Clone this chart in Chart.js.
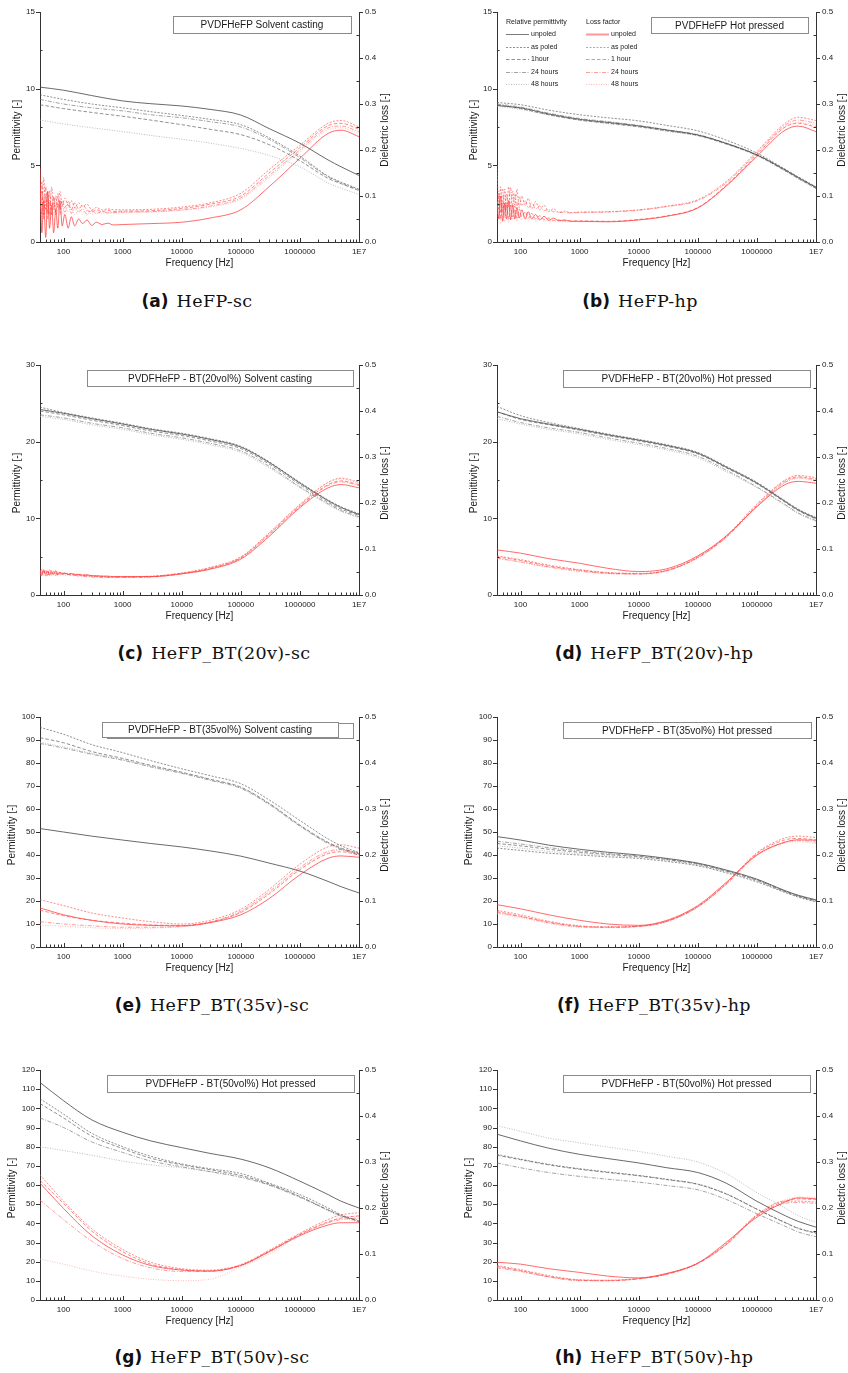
<!DOCTYPE html>
<html>
<head>
<meta charset="utf-8">
<script src="https://cdn.jsdelivr.net/npm/chart.js@4.4.1/dist/chart.umd.min.js"></script>
<style>
  html, body { margin: 0; padding: 0; background: #fff; }
  body { position: relative; width: 848px; height: 1373px; overflow: hidden; }
  canvas.panel { position: absolute; }
  .cap { position: absolute; white-space: nowrap; transform: translate(-50%, -50%); color: #111; line-height: 1; }
  .cap b { font-family: "DejaVu Sans", sans-serif; font-weight: bold; font-size: 17px; }
  .cap span { font-family: "DejaVu Serif", serif; font-size: 17.5px; letter-spacing: 0.4px; }
</style>
</head>
<body>
<script>
// ---- frequency grids (Hz) ----
const freqMain = [40, 100, 300, 1e3, 3e3, 1e4, 3e4, 1e5, 3e5, 1e6, 3e6, 5e6, 1e7];
const freqNoisy = [40, 43, 46, 50, 54, 58, 63, 68, 74, 80, 87, 95, 105, 120, 135, 155, 180, 210, 250, 300, 360, 450, 560, 700,
                   1e3, 3e3, 1e4, 3e4, 1e5, 3e5, 1e6, 3e6, 5e6, 1e7];

// ---- series names (order: unpoled, as poled, 1 hour, 24 hours, 48 hours) ----
const permNames = ['unpoled', 'as poled', '1hour', '24 hours', '48 hours'];
const lossNames = ['unpoled', 'as poled', '1 hour', '24 hours', '48 hours'];

// ---- axis tick labels ----
const freqTickLabels = { 100: '100', 1000: '1000', 10000: '10000', 100000: '100000', 1000000: '1000000', 10000000: '1E7' };

// ---- (a) PVDFHeFP solvent casting ----
const permA = [
  [10.1, 9.9, 9.55, 9.2, 9.02, 8.87, 8.65, 8.28, 7.4, 6.44, 5.35, 4.9, 4.34],
  [9.6, 9.3, 9.0, 8.75, 8.5, 8.25, 8.0, 7.65, 6.8, 5.6, 4.3, 3.9, 3.45],
  [8.95, 8.7, 8.45, 8.2, 7.95, 7.65, 7.35, 7.0, 6.35, 5.3, 4.15, 3.8, 3.35],
  [9.3, 9.0, 8.75, 8.55, 8.3, 8.1, 7.85, 7.5, 6.7, 5.5, 4.25, 3.85, 3.4],
  [7.95, 7.7, 7.45, 7.2, 6.95, 6.7, 6.45, 6.1, 5.65, 4.9, 3.85, 3.5, 3.1]
];
const lossA = [
  [0.16, 0.02, 0.09, 0.01, 0.11, 0.03, 0.08, 0.02, 0.07, 0.03, 0.09, 0.035, 0.06, 0.03, 0.055, 0.035, 0.05, 0.04, 0.048, 0.036, 0.043, 0.038, 0.041, 0.037, 0.038, 0.04, 0.043, 0.052, 0.07, 0.12, 0.182, 0.236, 0.243, 0.229],
  [0.12, 0.06, 0.14, 0.07, 0.11, 0.06, 0.12, 0.07, 0.10, 0.075, 0.11, 0.08, 0.095, 0.08, 0.09, 0.075, 0.085, 0.078, 0.082, 0.07, 0.075, 0.07, 0.072, 0.07, 0.07, 0.071, 0.076, 0.085, 0.106, 0.157, 0.21, 0.258, 0.264, 0.25],
  [0.09, 0.13, 0.05, 0.12, 0.06, 0.11, 0.06, 0.10, 0.065, 0.105, 0.07, 0.09, 0.075, 0.088, 0.07, 0.085, 0.072, 0.08, 0.07, 0.065, 0.07, 0.066, 0.069, 0.066, 0.067, 0.068, 0.073, 0.082, 0.10, 0.15, 0.205, 0.253, 0.258, 0.245],
  [0.07, 0.11, 0.06, 0.10, 0.05, 0.09, 0.055, 0.095, 0.06, 0.085, 0.06, 0.08, 0.065, 0.08, 0.062, 0.075, 0.065, 0.072, 0.06, 0.068, 0.062, 0.066, 0.063, 0.064, 0.065, 0.066, 0.07, 0.078, 0.096, 0.144, 0.2, 0.248, 0.252, 0.24],
  [0.10, 0.05, 0.10, 0.06, 0.09, 0.05, 0.085, 0.06, 0.08, 0.065, 0.08, 0.06, 0.075, 0.065, 0.072, 0.06, 0.07, 0.065, 0.068, 0.06, 0.066, 0.062, 0.064, 0.063, 0.064, 0.065, 0.069, 0.076, 0.093, 0.14, 0.196, 0.244, 0.248, 0.236]
];

// ---- (b) PVDFHeFP hot pressed ----
const permB = [
  [8.9, 8.75, 8.35, 8.0, 7.8, 7.57, 7.3, 6.98, 6.44, 5.68, 4.7, 4.2, 3.55],
  [9.1, 8.95, 8.6, 8.3, 8.1, 7.9, 7.6, 7.25, 6.65, 5.8, 4.75, 4.25, 3.6],
  [8.95, 8.7, 8.3, 7.95, 7.75, 7.52, 7.25, 6.95, 6.4, 5.65, 4.65, 4.15, 3.5],
  [9.0, 8.8, 8.4, 8.05, 7.85, 7.6, 7.32, 7.0, 6.45, 5.7, 4.72, 4.22, 3.58],
  [8.85, 8.65, 8.28, 7.95, 7.72, 7.5, 7.22, 6.92, 6.38, 5.62, 4.62, 4.1, 3.48]
];
const lossB = [
  [0.09, 0.05, 0.1, 0.045, 0.085, 0.05, 0.09, 0.048, 0.08, 0.05, 0.075, 0.052, 0.07, 0.05, 0.066, 0.05, 0.06, 0.048, 0.056, 0.047, 0.052, 0.046, 0.048, 0.045, 0.045, 0.044, 0.048, 0.056, 0.074, 0.121, 0.186, 0.243, 0.252, 0.24],
  [0.167, 0.07, 0.12, 0.065, 0.115, 0.07, 0.12, 0.075, 0.11, 0.08, 0.115, 0.075, 0.1, 0.08, 0.095, 0.072, 0.088, 0.07, 0.08, 0.066, 0.072, 0.064, 0.067, 0.064, 0.065, 0.066, 0.07, 0.078, 0.092, 0.131, 0.197, 0.258, 0.271, 0.264],
  [0.07, 0.1, 0.05, 0.09, 0.055, 0.085, 0.05, 0.08, 0.055, 0.078, 0.052, 0.072, 0.055, 0.066, 0.052, 0.062, 0.05, 0.057, 0.049, 0.052, 0.047, 0.048, 0.046, 0.046, 0.046, 0.045, 0.049, 0.057, 0.075, 0.123, 0.19, 0.25, 0.258, 0.25],
  [0.08, 0.11, 0.065, 0.115, 0.07, 0.105, 0.075, 0.118, 0.078, 0.105, 0.075, 0.098, 0.08, 0.09, 0.074, 0.085, 0.072, 0.078, 0.068, 0.07, 0.066, 0.065, 0.064, 0.063, 0.064, 0.065, 0.069, 0.077, 0.09, 0.128, 0.194, 0.254, 0.265, 0.258],
  [0.05, 0.085, 0.04, 0.08, 0.045, 0.075, 0.042, 0.075, 0.048, 0.07, 0.045, 0.065, 0.048, 0.06, 0.046, 0.056, 0.045, 0.052, 0.045, 0.048, 0.044, 0.046, 0.044, 0.044, 0.044, 0.044, 0.048, 0.056, 0.074, 0.122, 0.19, 0.25, 0.26, 0.254]
];

// ---- (c) PVDFHeFP - BT(20vol%) solvent casting ----
const permC = [
  [24.2, 23.7, 23.0, 22.3, 21.6, 21.0, 20.3, 19.3, 17.3, 14.6, 12.3, 11.4, 10.5],
  [24.5, 23.8, 23.1, 22.4, 21.7, 21.1, 20.4, 19.4, 17.4, 14.7, 12.4, 11.5, 10.6],
  [24.0, 23.5, 22.8, 22.1, 21.4, 20.8, 20.1, 19.1, 17.1, 14.4, 12.1, 11.2, 10.4],
  [23.5, 23.1, 22.4, 21.8, 21.1, 20.5, 19.8, 18.8, 16.8, 14.1, 11.9, 11.0, 10.2],
  [23.3, 22.9, 22.2, 21.6, 20.9, 20.3, 19.6, 18.6, 16.6, 14.0, 11.8, 10.9, 10.1]
];
const lossC = [
  [0.05, 0.042, 0.055, 0.045, 0.052, 0.043, 0.05, 0.046, 0.053, 0.044, 0.049, 0.046, 0.048, 0.045, 0.047, 0.044, 0.045, 0.043, 0.044, 0.042, 0.042, 0.041, 0.041, 0.04, 0.04, 0.04, 0.046, 0.056, 0.078, 0.127, 0.19, 0.233, 0.24, 0.233],
  [0.045, 0.056, 0.047, 0.054, 0.044, 0.055, 0.046, 0.052, 0.045, 0.05, 0.046, 0.049, 0.046, 0.047, 0.045, 0.046, 0.044, 0.044, 0.043, 0.042, 0.041, 0.041, 0.04, 0.04, 0.04, 0.041, 0.048, 0.06, 0.083, 0.135, 0.197, 0.245, 0.254, 0.245],
  [0.055, 0.047, 0.052, 0.041, 0.05, 0.044, 0.054, 0.045, 0.049, 0.043, 0.05, 0.045, 0.047, 0.044, 0.046, 0.043, 0.044, 0.042, 0.042, 0.041, 0.04, 0.04, 0.039, 0.039, 0.039, 0.04, 0.047, 0.058, 0.081, 0.132, 0.194, 0.24, 0.248, 0.24],
  [0.04, 0.05, 0.044, 0.052, 0.042, 0.049, 0.043, 0.05, 0.042, 0.048, 0.043, 0.046, 0.043, 0.045, 0.042, 0.043, 0.041, 0.041, 0.04, 0.039, 0.039, 0.038, 0.038, 0.038, 0.038, 0.039, 0.046, 0.057, 0.08, 0.13, 0.192, 0.238, 0.246, 0.238],
  [0.052, 0.044, 0.05, 0.046, 0.055, 0.045, 0.051, 0.043, 0.05, 0.045, 0.048, 0.044, 0.046, 0.044, 0.045, 0.042, 0.043, 0.041, 0.041, 0.04, 0.04, 0.039, 0.039, 0.039, 0.039, 0.04, 0.047, 0.059, 0.082, 0.134, 0.196, 0.244, 0.252, 0.243]
];

// ---- (d) PVDFHeFP - BT(20vol%) hot pressed ----
const permD = [
  [23.9, 23.0, 22.3, 21.6, 20.9, 20.2, 19.5, 18.5, 16.7, 14.6, 12.2, 11.1, 10.0],
  [24.6, 23.4, 22.5, 21.7, 21.0, 20.3, 19.6, 18.6, 16.8, 14.7, 12.3, 11.2, 10.1],
  [23.9, 22.9, 22.2, 21.5, 20.8, 20.1, 19.4, 18.4, 16.6, 14.5, 12.1, 11.0, 9.9],
  [23.3, 22.5, 21.8, 21.2, 20.5, 19.8, 19.1, 18.1, 16.3, 14.1, 11.8, 10.7, 9.7],
  [23.0, 22.3, 21.6, 21.0, 20.3, 19.6, 18.9, 17.9, 16.1, 14.0, 11.7, 10.6, 9.6]
];
const lossD = [
  [0.098, 0.091, 0.079, 0.069, 0.058, 0.051, 0.057, 0.085, 0.128, 0.192, 0.24, 0.247, 0.243],
  [0.085, 0.077, 0.065, 0.055, 0.049, 0.047, 0.054, 0.083, 0.128, 0.198, 0.25, 0.26, 0.255],
  [0.083, 0.075, 0.063, 0.054, 0.048, 0.046, 0.053, 0.082, 0.126, 0.195, 0.248, 0.257, 0.252],
  [0.08, 0.072, 0.061, 0.052, 0.047, 0.046, 0.053, 0.081, 0.125, 0.193, 0.245, 0.255, 0.25],
  [0.079, 0.071, 0.06, 0.051, 0.046, 0.045, 0.052, 0.08, 0.124, 0.192, 0.244, 0.253, 0.248]
];

// ---- (e) PVDFHeFP - BT(35vol%) solvent casting ----
const permE = [
  [51.5, 50.0, 48.2, 46.5, 45.0, 43.5, 41.8, 39.5, 36.5, 33.0, 28.5, 26.2, 23.5],
  [95.5, 92.5, 88.0, 84.5, 81.0, 77.5, 74.5, 71.0, 64.0, 55.0, 47.0, 44.0, 41.0],
  [91.0, 88.8, 85.0, 82.0, 79.0, 76.0, 73.0, 69.5, 62.5, 53.0, 45.5, 43.0, 40.5],
  [88.5, 86.5, 83.8, 81.2, 78.3, 75.5, 72.5, 69.0, 62.0, 52.5, 45.0, 42.5, 40.0],
  [89.0, 87.0, 84.2, 81.5, 78.6, 75.8, 72.8, 69.3, 62.3, 52.8, 45.2, 42.8, 40.3]
];
const lossE = [
  [0.085, 0.07, 0.058, 0.05, 0.047, 0.046, 0.053, 0.07, 0.105, 0.157, 0.193, 0.198, 0.195],
  [0.103, 0.09, 0.074, 0.063, 0.055, 0.05, 0.058, 0.082, 0.125, 0.18, 0.218, 0.222, 0.215],
  [0.08, 0.068, 0.058, 0.052, 0.048, 0.047, 0.054, 0.075, 0.115, 0.168, 0.203, 0.207, 0.2],
  [0.055, 0.05, 0.046, 0.043, 0.043, 0.045, 0.054, 0.078, 0.12, 0.173, 0.208, 0.212, 0.205],
  [0.048, 0.045, 0.042, 0.04, 0.041, 0.044, 0.052, 0.076, 0.117, 0.17, 0.205, 0.21, 0.203]
];

// ---- (f) PVDFHeFP - BT(35vol%) hot pressed ----
const permF = [
  [48.0, 46.5, 44.3, 42.5, 41.2, 40.0, 38.5, 36.5, 33.5, 29.5, 24.5, 22.5, 20.5],
  [43.0, 42.0, 40.8, 40.0, 39.2, 38.5, 37.2, 35.3, 32.3, 28.3, 23.7, 21.7, 19.6],
  [45.0, 44.0, 42.5, 41.2, 40.2, 39.3, 38.0, 36.0, 33.0, 29.0, 24.1, 22.1, 20.0],
  [46.0, 44.8, 43.2, 41.8, 40.6, 39.6, 38.2, 36.2, 33.2, 29.2, 24.3, 22.3, 20.2],
  [44.0, 43.0, 41.6, 40.6, 39.7, 38.9, 37.6, 35.6, 32.6, 28.6, 23.9, 21.9, 19.8]
];
const lossF = [
  [0.092, 0.083, 0.07, 0.058, 0.05, 0.047, 0.058, 0.09, 0.14, 0.2, 0.228, 0.233, 0.232],
  [0.08, 0.07, 0.056, 0.046, 0.044, 0.045, 0.056, 0.088, 0.138, 0.205, 0.237, 0.241, 0.238],
  [0.077, 0.067, 0.054, 0.045, 0.043, 0.045, 0.056, 0.088, 0.137, 0.203, 0.233, 0.236, 0.233],
  [0.075, 0.066, 0.053, 0.044, 0.043, 0.045, 0.056, 0.087, 0.136, 0.2, 0.228, 0.232, 0.228],
  [0.072, 0.064, 0.051, 0.043, 0.042, 0.044, 0.055, 0.086, 0.135, 0.198, 0.226, 0.229, 0.225]
];

// ---- (g) PVDFHeFP - BT(50vol%) solvent casting ----
const permG = [
  [113.5, 104.0, 94.0, 87.5, 83.0, 79.5, 76.5, 73.5, 69.0, 62.0, 55.0, 51.5, 48.0],
  [105.0, 97.0, 87.0, 80.0, 75.0, 71.0, 68.5, 66.0, 61.0, 55.0, 48.0, 44.5, 41.0],
  [102.5, 95.0, 85.5, 79.0, 74.0, 70.5, 68.0, 65.0, 60.5, 54.0, 47.0, 44.0, 41.0],
  [95.0, 90.0, 82.5, 77.0, 72.5, 69.5, 67.0, 64.0, 60.0, 53.5, 47.0, 44.0, 41.5],
  [80.0, 78.0, 75.5, 72.5, 70.5, 69.0, 67.0, 64.5, 60.0, 54.0, 46.5, 43.5, 40.5]
];
const lossG = [
  [0.254, 0.199, 0.14, 0.098, 0.075, 0.065, 0.063, 0.075, 0.105, 0.14, 0.163, 0.168, 0.168],
  [0.272, 0.215, 0.155, 0.11, 0.082, 0.068, 0.065, 0.077, 0.108, 0.145, 0.175, 0.185, 0.19],
  [0.26, 0.21, 0.15, 0.105, 0.078, 0.066, 0.063, 0.076, 0.106, 0.143, 0.17, 0.178, 0.183],
  [0.217, 0.175, 0.128, 0.09, 0.07, 0.062, 0.062, 0.075, 0.104, 0.142, 0.168, 0.175, 0.178],
  [0.089, 0.078, 0.063, 0.052, 0.045, 0.042, 0.045, 0.072, 0.1, 0.14, 0.168, 0.18, 0.182]
];

// ---- (h) PVDFHeFP - BT(50vol%) hot pressed ----
const permH = [
  [86.5, 83.0, 79.2, 76.0, 73.8, 71.5, 69.0, 66.5, 61.0, 51.5, 44.0, 41.0, 38.0],
  [76.0, 73.5, 70.8, 68.5, 66.8, 65.0, 63.0, 60.5, 55.5, 47.5, 40.5, 37.5, 35.0],
  [75.5, 73.2, 70.5, 68.2, 66.5, 64.8, 62.8, 60.3, 55.3, 47.3, 40.3, 37.3, 34.8],
  [71.5, 69.0, 66.5, 64.5, 63.0, 61.5, 59.7, 57.5, 52.5, 45.0, 38.5, 35.5, 33.0],
  [91.0, 88.0, 84.5, 82.0, 79.8, 77.5, 75.0, 72.0, 66.0, 56.0, 48.0, 44.0, 40.5]
];
const lossH = [
  [0.082, 0.078, 0.068, 0.06, 0.052, 0.048, 0.058, 0.08, 0.125, 0.18, 0.213, 0.222, 0.22],
  [0.075, 0.066, 0.053, 0.044, 0.043, 0.047, 0.057, 0.08, 0.122, 0.185, 0.215, 0.215, 0.213],
  [0.073, 0.064, 0.051, 0.043, 0.042, 0.046, 0.056, 0.08, 0.12, 0.183, 0.215, 0.22, 0.218],
  [0.07, 0.062, 0.05, 0.042, 0.042, 0.046, 0.056, 0.079, 0.12, 0.183, 0.21, 0.212, 0.21],
  [0.072, 0.063, 0.051, 0.043, 0.043, 0.047, 0.057, 0.081, 0.121, 0.186, 0.218, 0.224, 0.223]
];

// ---- line styles ----
const permStyles = [
  { color: 'rgba(70,70,70,0.9)', dash: [], width: 0.9 },
  { color: 'rgba(90,90,90,0.85)', dash: [2, 1.5], width: 0.8 },
  { color: 'rgba(90,90,90,0.85)', dash: [3.5, 2], width: 0.8 },
  { color: 'rgba(110,110,110,0.8)', dash: [4, 1.5, 1, 1.5], width: 0.8 },
  { color: 'rgba(150,150,150,0.8)', dash: [1, 1.5], width: 0.8 }
];
const lossStyles = [
  { color: 'rgba(255,60,60,0.85)', dash: [], width: 0.9 },
  { color: 'rgba(255,70,70,0.8)', dash: [2, 1.5], width: 0.8 },
  { color: 'rgba(255,70,70,0.8)', dash: [3.5, 2], width: 0.8 },
  { color: 'rgba(255,90,90,0.75)', dash: [4, 1.5, 1, 1.5], width: 0.8 },
  { color: 'rgba(255,140,140,0.75)', dash: [1, 1.5], width: 0.8 }
];

const FONT = '"Liberation Sans", Arial, sans-serif';
const AXIS = '#333';
const TEXT = '#1a1a1a';

// ---- panels: placement, axis ranges and annotation boxes ----
const panels = [
  { x: 0,   y: 0,    side: 'L', pMax: 15,  pStep: 5,  pMinor: 2.5, perm: permA, loss: lossA, lossFreq: freqNoisy,
    title: 'PVDFHeFP Solvent casting', box: [133, 4, 311, 21], tag: '(a)', cap: 'HeFP-sc', capX: 197, capY: 302 },
  { x: 424, y: 0,    side: 'R', pMax: 15,  pStep: 5,  pMinor: 2.5, perm: permB, loss: lossB, lossFreq: freqNoisy,
    title: 'PVDFHeFP Hot pressed', box: [154, 5, 311, 21], legend: true, tag: '(b)', cap: 'HeFP-hp', capX: 640, capY: 302 },
  { x: 0,   y: 353,  side: 'L', pMax: 30,  pStep: 10, pMinor: 5, perm: permC, loss: lossC, lossFreq: freqNoisy,
    title: 'PVDFHeFP - BT(20vol%) Solvent casting', box: [47, 5, 313, 21], tag: '(c)', cap: 'HeFP_BT(20v)-sc', capX: 214, capY: 654 },
  { x: 424, y: 353,  side: 'R', pMax: 30,  pStep: 10, pMinor: 5, perm: permD, loss: lossD, lossFreq: freqMain,
    title: 'PVDFHeFP - BT(20vol%) Hot pressed', box: [66, 5, 313, 22], tag: '(d)', cap: 'HeFP_BT(20v)-hp', capX: 654, capY: 654 },
  { x: 0,   y: 705,  side: 'L', pMax: 100, pStep: 10, pMinor: 5, perm: permE, loss: lossE, lossFreq: freqMain,
    title: 'PVDFHeFP - BT(35vol%) Solvent casting', box: [62, 5, 298, 20], backBox: [67, 6, 313, 21], tag: '(e)', cap: 'HeFP_BT(35v)-sc', capX: 212, capY: 1006 },
  { x: 424, y: 705,  side: 'R', pMax: 100, pStep: 10, pMinor: 5, perm: permF, loss: lossF, lossFreq: freqMain,
    title: 'PVDFHeFP - BT(35vol%) Hot pressed', box: [66, 5, 314, 21], tag: '(f)', cap: 'HeFP_BT(35v)-hp', capX: 654, capY: 1006 },
  { x: 0,   y: 1058, side: 'L', pMax: 120, pStep: 10, pMinor: 5, perm: permG, loss: lossG, lossFreq: freqMain,
    title: 'PVDFHeFP - BT(50vol%) Hot pressed', box: [67, 5, 314, 22], tag: '(g)', cap: 'HeFP_BT(50v)-sc', capX: 212, capY: 1358 },
  { x: 424, y: 1058, side: 'R', pMax: 120, pStep: 10, pMinor: 5, perm: permH, loss: lossH, lossFreq: freqMain,
    title: 'PVDFHeFP - BT(50vol%) Hot pressed', box: [66, 5, 313, 22], tag: '(h)', cap: 'HeFP_BT(50v)-hp', capX: 654, capY: 1358 }
];

// frequency tick positions: majors at decades, minors at 2..9 x decade
function freqTicks() {
  const out = [];
  for (let e = 1; e <= 7; e++) {
    for (let m = 1; m <= 9; m++) {
      const v = m * Math.pow(10, e);
      if (v >= 40 && v <= 1e7) out.push({ value: v });
      if (e === 7) break;
    }
  }
  return out;
}
function linTicks(max, step) {
  const out = [];
  const n = Math.round(max / step);
  for (let i = 0; i <= n; i++) out.push({ value: +(i * step).toFixed(4) });
  return out;
}

// tick marks, axis titles, caption box and the legend
const framePlugin = {
  id: 'frame',
  afterDraw(chart, args, opts) {
    const p = opts.panel;
    const { ctx, chartArea: ca, scales } = chart;
    ctx.save();
    ctx.strokeStyle = AXIS;
    ctx.lineWidth = 1;
    // y tick marks: majors outward, minors inward
    ['y', 'y1'].forEach(id => {
      const s = scales[id];
      const edge = id === 'y' ? ca.left : ca.right;
      const out = id === 'y' ? -1 : 1;
      s.ticks.forEach(t => {
        const py = Math.round(s.getPixelForValue(t.value)) + 0.5;
        const major = t.label !== '' && t.label !== undefined;
        ctx.beginPath();
        ctx.moveTo(edge, py);
        ctx.lineTo(edge + (major ? out * 4 : -out * 2.5), py);
        ctx.stroke();
      });
    });
    // x tick marks: inward
    const sx = scales.x;
    sx.ticks.forEach(t => {
      const px = Math.round(sx.getPixelForValue(t.value)) + 0.5;
      const major = t.label !== '' && t.label !== undefined;
      ctx.beginPath();
      ctx.moveTo(px, ca.bottom);
      ctx.lineTo(px, ca.bottom - (major ? 4 : 2.5));
      ctx.stroke();
    });

    // axis titles
    ctx.fillStyle = TEXT;
    ctx.font = '8px ' + FONT;
    const wl = Math.max(...scales.y.ticks.map(t => ctx.measureText(t.label || '').width));
    const wr = Math.max(...scales.y1.ticks.map(t => ctx.measureText(t.label || '').width));
    ctx.font = '10px ' + FONT;
    ctx.textAlign = 'center';
    ctx.textBaseline = 'middle';
    const midY = (ca.top + ca.bottom) / 2 + 3;
    ctx.save();
    ctx.translate(ca.left - 5 - wl - 9, midY);
    ctx.rotate(-Math.PI / 2);
    ctx.fillText('Permittivity [-]', 0, 0);
    ctx.restore();
    ctx.save();
    ctx.translate(ca.right + 6 + wr + 9.5, midY);
    ctx.rotate(-Math.PI / 2);
    ctx.fillText('Dielectric loss [-]', 0, 0);
    ctx.restore();
    ctx.fillText('Frequency [Hz]', (ca.left + ca.right) / 2, ca.bottom + 21);

    // caption box in the upper right
    ctx.strokeStyle = '#8a8a8a';
    if (p.backBox) {
      const [x0, y0, x1, y1] = p.backBox;
      ctx.fillStyle = '#fff';
      ctx.fillRect(ca.left + x0, ca.top + y0, x1 - x0, y1 - y0);
      ctx.strokeRect(ca.left + x0 + 0.5, ca.top + y0 + 0.5, x1 - x0, y1 - y0);
    }
    const [bx0, by0, bx1, by1] = p.box;
    ctx.fillStyle = '#fff';
    ctx.fillRect(ca.left + bx0, ca.top + by0, bx1 - bx0, by1 - by0);
    ctx.strokeRect(ca.left + bx0 + 0.5, ca.top + by0 + 0.5, bx1 - bx0, by1 - by0);
    ctx.fillStyle = TEXT;
    ctx.font = '10px ' + FONT;
    ctx.fillText(p.title, ca.left + (bx0 + bx1) / 2, ca.top + (by0 + by1) / 2 + 1);

    // legend
    if (p.legend) {
      ctx.font = '7px ' + FONT;
      ctx.textAlign = 'left';
      const colP = ca.left + 9, colL = ca.left + 89;
      ctx.fillText('Relative permittivity', colP, ca.top + 10);
      ctx.fillText('Loss factor', colL, ca.top + 10);
      const rows = [22, 35, 47, 60, 72];
      rows.forEach((ry, i) => {
        const yy = ca.top + ry + 0.5;
        ctx.setLineDash(permStyles[i].dash);
        ctx.strokeStyle = permStyles[i].color;
        ctx.lineWidth = 0.8;
        ctx.beginPath(); ctx.moveTo(colP, yy); ctx.lineTo(colP + 23, yy); ctx.stroke();
        ctx.setLineDash(lossStyles[i].dash);
        ctx.strokeStyle = i === 0 ? 'rgba(255,140,140,0.9)' : lossStyles[i].color;
        ctx.lineWidth = i === 0 ? 2 : 0.8;
        ctx.beginPath(); ctx.moveTo(colL, yy); ctx.lineTo(colL + 23, yy); ctx.stroke();
        ctx.setLineDash([]);
        ctx.fillStyle = TEXT;
        ctx.fillText(permNames[i], colP + 25, yy);
        ctx.fillText(lossNames[i], colL + 25, yy);
      });
    }
    ctx.restore();
  }
};

function buildPanel(p) {
  const cv = document.createElement('canvas');
  cv.className = 'panel';
  cv.width = 424; cv.height = 280;
  cv.style.left = p.x + 'px';
  cv.style.top = p.y + 'px';
  document.body.appendChild(cv);

  const leftW = p.side === 'L' ? 40 : 73;
  const rightW = p.side === 'L' ? 65 : 32;

  const datasets = [];
  p.perm.forEach((vals, i) => datasets.push({
    label: 'Permittivity ' + permNames[i],
    data: vals.map((v, k) => ({ x: freqMain[k], y: v })),
    yAxisID: 'y',
    borderColor: permStyles[i].color,
    borderDash: permStyles[i].dash,
    borderWidth: permStyles[i].width
  }));
  p.loss.forEach((vals, i) => datasets.push({
    label: 'Loss factor ' + lossNames[i],
    data: vals.map((v, k) => ({ x: p.lossFreq[k], y: v })),
    yAxisID: 'y1',
    borderColor: lossStyles[i].color,
    borderDash: lossStyles[i].dash,
    borderWidth: lossStyles[i].width
  }));

  const tickFont = { family: FONT, size: 8 };
  new Chart(cv, {
    type: 'line',
    data: { datasets },
    options: {
      responsive: false,
      animation: false,
      devicePixelRatio: 1,
      layout: { padding: { top: 12, left: 0, right: 0, bottom: 0 } },
      elements: { point: { radius: 0 }, line: { cubicInterpolationMode: 'monotone', fill: false } },
      plugins: { legend: { display: false }, tooltip: { enabled: false }, frame: { panel: p } },
      scales: {
        x: {
          type: 'logarithmic', position: 'bottom', min: 40, max: 1e7,
          grid: { display: false, drawTicks: false },
          border: { display: true, color: AXIS, width: 1 },
          ticks: {
            font: tickFont, color: TEXT, padding: 5, autoSkip: false, maxRotation: 0,
            callback: v => freqTickLabels[v] || ''
          },
          afterBuildTicks: s => { s.ticks = freqTicks(); },
          afterFit: s => { s.height = 38; }
        },
        y: {
          type: 'linear', position: 'left', min: 0, max: p.pMax,
          grid: { display: false, drawTicks: false },
          border: { display: true, color: AXIS, width: 1 },
          ticks: {
            font: tickFont, color: TEXT, padding: 5,
            callback: v => (Math.abs(v / p.pStep - Math.round(v / p.pStep)) < 1e-6 ? String(v) : '')
          },
          afterBuildTicks: s => { s.ticks = linTicks(p.pMax, p.pMinor); },
          afterFit: s => { s.width = leftW; }
        },
        y1: {
          type: 'linear', position: 'right', min: 0, max: 0.5,
          grid: { display: false, drawTicks: false },
          border: { display: true, color: AXIS, width: 1 },
          ticks: {
            font: tickFont, color: TEXT, padding: 6,
            callback: v => (Math.abs(v * 10 - Math.round(v * 10)) < 1e-6 ? v.toFixed(1) : '')
          },
          afterBuildTicks: s => { s.ticks = linTicks(0.5, 0.05); },
          afterFit: s => { s.width = rightW; }
        }
      }
    },
    plugins: [framePlugin]
  });

  const cap = document.createElement('div');
  cap.className = 'cap';
  cap.style.left = p.capX + 'px';
  cap.style.top = p.capY + 'px';
  cap.innerHTML = '<b>' + p.tag + '</b>&nbsp;&nbsp;<span></span>';
  cap.querySelector('span').textContent = p.cap;
  document.body.appendChild(cap);
}

panels.forEach(buildPanel);
</script>
</body>
</html>
